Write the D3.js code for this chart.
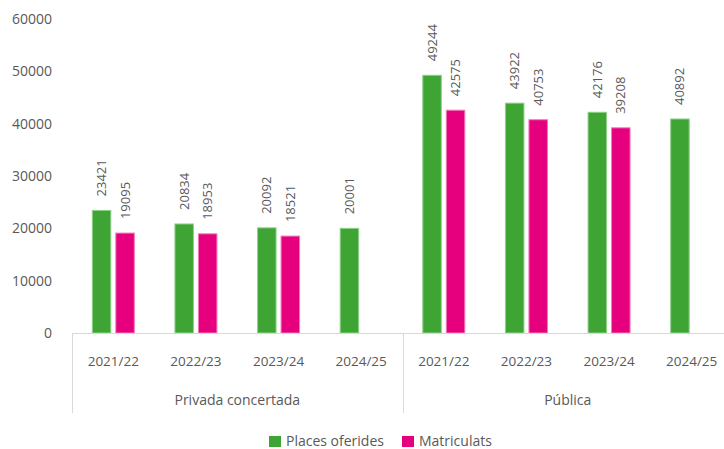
<!DOCTYPE html>
<html>
<head>
<meta charset="utf-8">
<script src="https://cdn.jsdelivr.net/npm/d3@7"></script>
<style>
  body { margin: 0; background: #fff; }
  svg { display: block; font-family: "Open Sans", sans-serif; }
</style>
</head>
<body>
<div class="chart"></div>
<script>
// values
const GROUPS = ["Privada concertada", "Pública"];
const YEARS = ["2021/22", "2022/23", "2023/24", "2024/25"];
const SERIES = ["Places oferides", "Matriculats"];
const COLORS = ["#3ea535", "#e6007e"];
const STROKES = ["#8fd08a", "#f37ab8"];

const PLACES_PRIVADA = [23421, 20834, 20092, 20001];
const MATRIC_PRIVADA = [19095, 18953, 18521, null];
const PLACES_PUBLICA = [49244, 43922, 42176, 40892];
const MATRIC_PUBLICA = [42575, 40753, 39208, null];

const Y_TICKS = [0, 10000, 20000, 30000, 40000, 50000, 60000];

const WIDTH = 724, HEIGHT = 449;
const TEXT = "#595959", LINE = "#d9d9d9";

// one row per category on the x axis
const rows = [];
GROUPS.forEach((g, gi) => {
  const places = gi === 0 ? PLACES_PRIVADA : PLACES_PUBLICA;
  const matric = gi === 0 ? MATRIC_PRIVADA : MATRIC_PUBLICA;
  YEARS.forEach((y, yi) => {
    rows.push({ id: g + "|" + y, group: g, year: y, values: [places[yi], matric[yi]] });
  });
});

const svg = d3.select(".chart").append("svg")
  .attr("width", WIDTH).attr("height", HEIGHT);

const xScale = d3.scaleBand().domain(rows.map(d => d.id)).range([72, 733]);
const x1 = d3.scaleBand().domain(SERIES).range([-21, 21]).paddingInner(0.213);
const yScale = d3.scaleLinear().domain([0, 60000]).range([333, 19]);

// y axis labels (no axis line)
svg.append("g")
  .selectAll("text")
  .data(Y_TICKS)
  .join("text")
  .attr("x", 52)
  .attr("y", d => yScale(d))
  .attr("dy", "0.35em")
  .attr("text-anchor", "end")
  .attr("fill", TEXT)
  .attr("font-size", 14)
  .text(d => d);

// bars
const cat = svg.append("g").selectAll("g")
  .data(rows)
  .join("g")
  .attr("transform", d => `translate(${xScale(d.id) + xScale.bandwidth() / 2},0)`);

const cells = cat.selectAll("g.cell")
  .data(d => d.values.map((v, i) => ({ v, i })).filter(e => e.v != null))
  .join("g").attr("class", "cell");

cells.append("rect")
  .attr("x", d => x1(SERIES[d.i]))
  .attr("width", x1.bandwidth())
  .attr("y", d => yScale(d.v))
  .attr("height", d => yScale(0) - yScale(d.v))
  .attr("fill", d => COLORS[d.i])
  .attr("stroke", d => STROKES[d.i])
  .attr("stroke-width", 1);

cells.append("text")
  .attr("transform", d =>
    `translate(${x1(SERIES[d.i]) + x1.bandwidth() / 2 + 4.5},${yScale(d.v) - 14}) rotate(-90)`)
  .attr("fill", TEXT)
  .attr("font-size", 13)
  .text(d => d.v);

// x axis line and dividers
const axis = svg.append("g").attr("stroke", LINE).attr("stroke-width", 1);
axis.append("line")
  .attr("x1", xScale.range()[0]).attr("x2", xScale.range()[1])
  .attr("y1", 333.5).attr("y2", 333.5);
GROUPS.forEach(g => {
  const x = xScale(g + "|" + YEARS[0]);
  axis.append("line")
    .attr("x1", Math.round(x) + 0.5).attr("x2", Math.round(x) + 0.5)
    .attr("y1", 333).attr("y2", 413);
});

// year labels
svg.append("g").selectAll("text")
  .data(rows)
  .join("text")
  .attr("x", d => xScale(d.id) + xScale.bandwidth() / 2)
  .attr("y", 361)
  .attr("dy", "0.35em")
  .attr("text-anchor", "middle")
  .attr("fill", TEXT)
  .attr("font-size", 13.5)
  .text(d => d.year);

// group labels
svg.append("g").selectAll("text")
  .data(GROUPS)
  .join("text")
  .attr("x", g => {
    const first = xScale(g + "|" + YEARS[0]);
    return first + xScale.bandwidth() * YEARS.length / 2;
  })
  .attr("y", 400)
  .attr("dy", "0.35em")
  .attr("text-anchor", "middle")
  .attr("fill", TEXT)
  .attr("font-size", 14)
  .text(g => g);

// legend
const legendX = [269, 402];
const legend = svg.append("g").selectAll("g")
  .data(SERIES)
  .join("g")
  .attr("transform", (d, i) => `translate(${legendX[i]},436)`);
legend.append("rect")
  .attr("width", 12).attr("height", 11)
  .attr("fill", (d, i) => COLORS[i]);
legend.append("text")
  .attr("x", 17).attr("y", 5.5)
  .attr("dy", "0.35em")
  .attr("fill", TEXT)
  .attr("font-size", 14)
  .text(d => d);
</script>
</body>
</html>
